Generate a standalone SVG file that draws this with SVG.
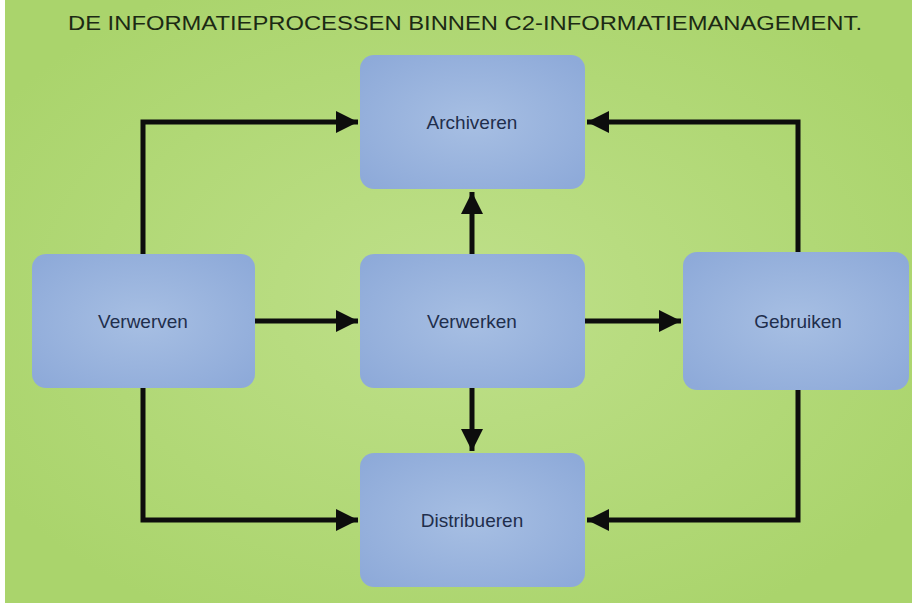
<svg xmlns="http://www.w3.org/2000/svg" width="916" height="607" viewBox="0 0 916 607">
<defs>
<radialGradient id="bg" cx="50%" cy="50%" r="60%">
<stop offset="0" stop-color="#bfe08a"/>
<stop offset="1" stop-color="#aad46c"/>
</radialGradient>
<radialGradient id="box" cx="50%" cy="50%" r="65%">
<stop offset="0" stop-color="#a7bfe3"/>
<stop offset="1" stop-color="#8eaad9"/>
</radialGradient>
<marker id="ah" viewBox="0 0 10 10" refX="10" refY="5" markerWidth="5" markerHeight="4.4" orient="auto" markerUnits="strokeWidth">
<path d="M0,0 L10,5 L0,10 z" fill="#0d0d0d"/>
</marker>
<style>
.node rect{fill:url(#box);}
.node text{font-family:"Liberation Sans",Arial,sans-serif;font-size:19px;fill:#1f2e4c;text-anchor:middle;}
#connectors path{fill:none;stroke:#0d0d0d;stroke-width:5;marker-end:url(#ah);}
.title{font-family:"Liberation Sans",Arial,sans-serif;font-size:21px;fill:#1c2a14;text-anchor:middle;}
</style>
</defs>
<rect x="0" y="0" width="916" height="607" fill="#ffffff"/>
<rect x="5" y="0" width="907" height="603" fill="url(#bg)"/>
<text class="title" x="465" y="30" textLength="794" lengthAdjust="spacingAndGlyphs">DE INFORMATIEPROCESSEN BINNEN C2-INFORMATIEMANAGEMENT.</text>
<g id="connectors">
<path d="M143,254 V122 H358"/>
<path d="M143,388 V520 H358"/>
<path d="M255,321 H358"/>
<path d="M585,321 H681"/>
<path d="M472,254 V192"/>
<path d="M472,388 V451"/>
<path d="M798,252 V122 H587"/>
<path d="M798,390 V520 H587"/>
</g>
<g id="archiveren" class="node">
<rect x="360" y="55" width="225" height="134" rx="14"/>
<text x="472" y="129">Archiveren</text>
</g>
<g id="verwerven" class="node">
<rect x="32" y="254" width="223" height="134" rx="14"/>
<text x="143" y="328">Verwerven</text>
</g>
<g id="verwerken" class="node">
<rect x="360" y="254" width="225" height="134" rx="14"/>
<text x="472" y="328">Verwerken</text>
</g>
<g id="gebruiken" class="node">
<rect x="683" y="252" width="226" height="138" rx="14"/>
<text x="798" y="328">Gebruiken</text>
</g>
<g id="distribueren" class="node">
<rect x="360" y="453" width="225" height="134" rx="14"/>
<text x="472" y="527">Distribueren</text>
</g>
</svg>
